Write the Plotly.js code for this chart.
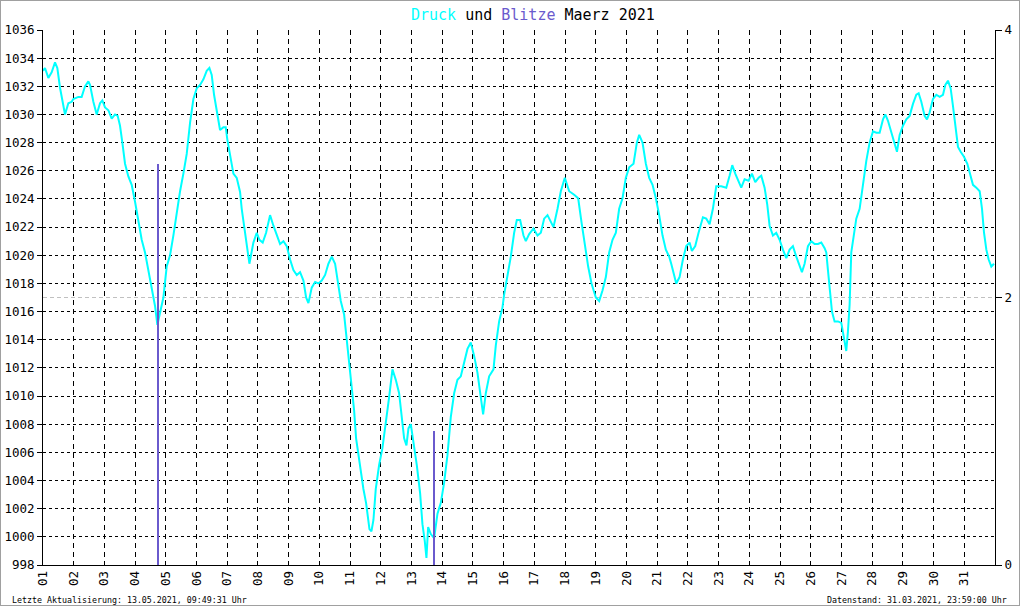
<!DOCTYPE html>
<html>
<head>
<meta charset="utf-8">
<script src="https://cdn.plot.ly/plotly-3.0.1.min.js"></script>
<style>
html,body{margin:0;padding:0;background:#fff;}
#wrap{width:1020px;height:606px;box-sizing:border-box;border:1px solid #a0a0a0;overflow:hidden;}
#chart{width:1018px;height:604px;}
</style>
</head>
<body>
<div id="wrap"><div id="chart"></div></div>
<script>
// Luftdruck (hPa) ueber Tag des Monats (Maerz 2021)
const druckTag = [
1.00,1.065,1.174,1.282,1.391,1.467,1.554,1.641,1.717,1.825,1.934,1.988,2.151,2.259,2.368,2.477,2.531,2.640,2.748,2.857,2.933,
3.020,3.128,3.237,3.345,3.432,3.508,3.584,3.671,3.780,3.888,3.997,4.105,4.214,4.322,4.431,4.540,4.648,4.724,4.811,4.920,
5.028,5.137,5.245,5.354,5.463,5.571,5.680,5.788,5.897,6.005,6.114,6.223,6.331,6.418,6.494,6.570,6.657,6.765,6.874,6.950,
7.004,7.091,7.200,7.308,7.417,7.471,7.547,7.634,7.721,7.851,7.960,8.047,8.155,8.264,8.394,8.503,8.611,8.720,8.829,8.937,
9.046,9.154,9.263,9.371,9.480,9.567,9.643,9.751,9.860,9.969,10.077,10.186,10.294,10.403,10.511,10.598,10.696,10.805,10.891,10.978,
11.054,11.130,11.195,11.272,11.348,11.434,11.521,11.630,11.695,11.760,11.836,11.945,12.053,12.162,12.270,12.379,12.488,12.596,12.672,12.759,
12.835,12.900,12.976,13.063,13.172,13.280,13.356,13.432,13.486,13.541,13.628,13.736,13.845,13.953,14.062,14.170,14.279,14.388,14.496,14.605,
14.713,14.822,14.930,15.039,15.148,15.234,15.332,15.419,15.528,15.669,15.745,15.853,15.962,16.016,16.125,16.233,16.342,16.429,16.537,16.646,
16.722,16.831,16.972,17.102,17.211,17.319,17.428,17.536,17.623,17.754,17.862,17.992,18.134,18.296,18.427,18.535,18.644,18.752,18.861,19.002,
19.111,19.219,19.328,19.436,19.545,19.654,19.762,19.871,19.979,20.088,20.229,20.338,20.414,20.522,20.631,20.740,20.848,20.957,21.065,21.174,
21.282,21.391,21.457,21.566,21.620,21.729,21.837,21.946,22.054,22.130,22.239,22.347,22.489,22.597,22.706,22.814,22.923,23.086,23.249,23.357,
23.444,23.542,23.650,23.737,23.846,23.976,24.085,24.193,24.302,24.389,24.497,24.584,24.660,24.769,24.877,24.986,25.094,25.203,25.312,25.420,
25.529,25.637,25.713,25.800,25.909,26.017,26.126,26.234,26.343,26.452,26.506,26.560,26.615,26.691,26.777,26.886,26.995,27.049,27.103,27.157,
27.212,27.266,27.320,27.375,27.483,27.592,27.700,27.809,27.917,28.026,28.135,28.243,28.352,28.428,28.515,28.623,28.732,28.808,28.895,29.003,
29.112,29.220,29.329,29.438,29.514,29.600,29.709,29.785,29.872,29.980,30.089,30.198,30.306,30.382,30.469,30.556,30.632,30.708,30.795,30.882,
30.990,31.099,31.175,31.283,31.392,31.501,31.577,31.642,31.718,31.794,31.880,31.967
];
const druckHpa = [
1033.1,1033.3,1032.6,1033.0,1033.7,1033.3,1031.9,1030.9,1030.0,1030.8,1030.9,1031.1,1031.25,1031.25,1032.0,1032.35,1032.1,1030.9,1030.0,1030.8,1031.0,
1030.5,1030.3,1029.7,1030.0,1029.9,1029.2,1028.0,1026.5,1025.6,1025.0,1023.8,1022.4,1021.1,1020.2,1018.9,1017.5,1016.4,1015.05,1016.0,1017.0,
1019.2,1020.0,1021.4,1023.1,1024.55,1025.8,1027.2,1029.4,1031.1,1031.85,1032.1,1032.5,1033.1,1033.3,1032.8,1031.4,1030.15,1028.9,1029.1,1029.1,
1028.2,1027.0,1025.8,1025.5,1024.5,1023.3,1022.1,1020.65,1019.4,1020.9,1021.6,1021.1,1020.9,1021.6,1022.85,1022.1,1021.4,1020.8,1021.0,1020.65,
1019.7,1018.95,1018.6,1018.8,1018.2,1017.0,1016.6,1017.7,1018.1,1018.0,1018.2,1018.6,1019.4,1019.9,1019.4,1018.0,1016.75,1015.8,1014.1,1012.1,
1010.7,1009.0,1007.0,1005.8,1004.8,1003.4,1002.4,1000.55,1000.4,1001.2,1003.4,1005.1,1006.3,1008.0,1009.9,1011.9,1011.15,1010.2,1008.7,1007.0,
1006.5,1007.7,1008.0,1006.8,1005.1,1003.1,1000.9,999.7,998.5,1000.7,1000.2,999.9,1001.65,1002.4,1003.85,1005.8,1008.5,1010.2,1011.15,1011.4,
1012.4,1013.35,1013.8,1012.85,1011.65,1010.2,1008.7,1010.2,1011.4,1011.9,1013.6,1015.3,1016.3,1017.2,1018.45,1019.9,1021.6,1022.5,1022.5,1021.4,
1021.0,1021.5,1021.9,1021.4,1021.6,1022.6,1022.85,1022.35,1022.0,1023.3,1024.55,1025.5,1024.55,1024.3,1024.05,1022.35,1020.65,1019.2,1018.0,1017.0,
1016.75,1017.5,1018.45,1020.2,1021.1,1021.6,1023.3,1024.05,1025.5,1026.25,1026.5,1028.0,1028.55,1028.0,1026.5,1025.5,1025.0,1024.05,1022.85,1021.4,
1020.4,1019.9,1019.4,1018.45,1018.0,1018.45,1019.7,1020.65,1020.9,1020.3,1020.65,1021.6,1022.7,1022.6,1022.2,1023.3,1024.9,1024.9,1024.8,1025.65,
1026.4,1025.8,1025.3,1024.8,1025.4,1025.3,1025.8,1025.2,1025.5,1025.65,1024.8,1023.6,1022.1,1021.4,1021.6,1021.1,1020.4,1019.8,1020.4,1020.65,
1019.9,1019.2,1018.8,1019.4,1020.65,1021.0,1020.8,1020.8,1020.9,1020.5,1020.2,1018.95,1017.5,1016.0,1015.3,1015.3,1015.2,1014.6,1013.85,1013.2,
1014.6,1016.5,1020.2,1021.1,1022.6,1023.3,1025.0,1026.7,1028.0,1028.8,1028.7,1028.7,1029.65,1030.0,1029.55,1028.7,1027.8,1027.35,1028.55,1029.2,
1029.65,1029.9,1030.75,1031.4,1031.5,1030.9,1029.9,1029.65,1030.15,1031.1,1031.4,1031.25,1031.4,1032.1,1032.4,1031.85,1030.6,1029.4,1027.7,1027.35,
1027.0,1026.5,1025.8,1025.0,1024.8,1024.55,1023.3,1021.6,1020.4,1019.7,1019.2,1019.4
];
// Blitze
const blitzTag = [4.757, 13.736];
const blitzAnzahl = [3, 1];
// Achsen
const tagWerte = [1,2,3,4,5,6,7,8,9,10,11,12,13,14,15,16,17,18,19,20,21,22,23,24,25,26,27,28,29,30,31];
const tagLabels = ["01","02","03","04","05","06","07","08","09","10","11","12","13","14","15","16","17","18","19","20","21","22","23","24","25","26","27","28","29","30","31"];
const blitzTicks = [0, 2, 4];

const mono = "DejaVu Sans Mono, Liberation Mono, monospace";

const traces = [
  {
    x: blitzTag, y: blitzAnzahl, type: 'bar', yaxis: 'y2', width: 0.06,
    marker: {color: '#6a5acd', line: {width: 0}}, hoverinfo: 'skip', showlegend: false
  },
  {
    x: druckTag, y: druckHpa, type: 'scatter', mode: 'lines',
    line: {color: '#00ffff', width: 2}, showlegend: false
  }
];

const layout = {
  width: 1018, height: 604,
  margin: {l: 42, r: 24, t: 29, b: 40, pad: 0},
  paper_bgcolor: '#ffffff', plot_bgcolor: '#ffffff',
  font: {family: mono, color: '#000000', size: 12},
  title: {
    text: '<span style="color:#00ffff">Druck</span> und <span style="color:#6a5acd">Blitze</span> Maerz 2021',
    font: {family: mono, size: 15, color: '#000000'},
    x: 0.5225, xref: 'container', xanchor: 'center', y: 0.977, yref: 'container', yanchor: 'middle'
  },
  xaxis: {
    range: [1, 32], tickmode: 'array', tickvals: tagWerte, ticktext: tagLabels,
    tickangle: -90, tickfont: {family: mono, size: 12.5, color: '#000'},
    showgrid: true, gridcolor: '#000000', gridwidth: 1, griddash: '5px,4px',
    showline: true, linecolor: '#000000', linewidth: 1, ticks: '', zeroline: false, fixedrange: true
  },
  yaxis: {
    range: [998, 1036], tick0: 998, dtick: 2,
    tickfont: {family: mono, size: 12.5, color: '#000'},
    showgrid: true, gridcolor: '#000000', gridwidth: 1, griddash: '3px,3px',
    showline: true, linecolor: '#000000', linewidth: 1,
    ticks: 'outside', ticklen: 5, tickcolor: '#000000', zeroline: false
  },
  yaxis2: {
    overlaying: 'y', side: 'right', range: [0, 4], tickmode: 'array', tickvals: blitzTicks,
    tickfont: {family: mono, size: 12.5, color: '#000'},
    showgrid: true, gridcolor: '#c0c0c0', gridwidth: 1, griddash: '4px,3px',
    showline: true, linecolor: '#000000', linewidth: 1,
    ticks: 'outside', ticklen: 6, tickcolor: '#000000', zeroline: false
  },
  bargap: 0,
  annotations: [
    {text: 'Letzte Aktualisierung: 13.05.2021, 09:49:31 Uhr', xref: 'paper', yref: 'paper',
     x: -0.035, y: -0.065, xanchor: 'left', yanchor: 'middle', showarrow: false,
     font: {family: mono, size: 8.3, color: '#000'}},
    {text: 'Datenstand: 31.03.2021, 23:59:00 Uhr', xref: 'paper', yref: 'paper',
     x: 1.0145, y: -0.065, xanchor: 'right', yanchor: 'middle', showarrow: false,
     font: {family: mono, size: 8.3, color: '#000'}}
  ]
};

Plotly.newPlot('chart', traces, layout, {displayModeBar: false, staticPlot: true});
</script>
</body>
</html>
